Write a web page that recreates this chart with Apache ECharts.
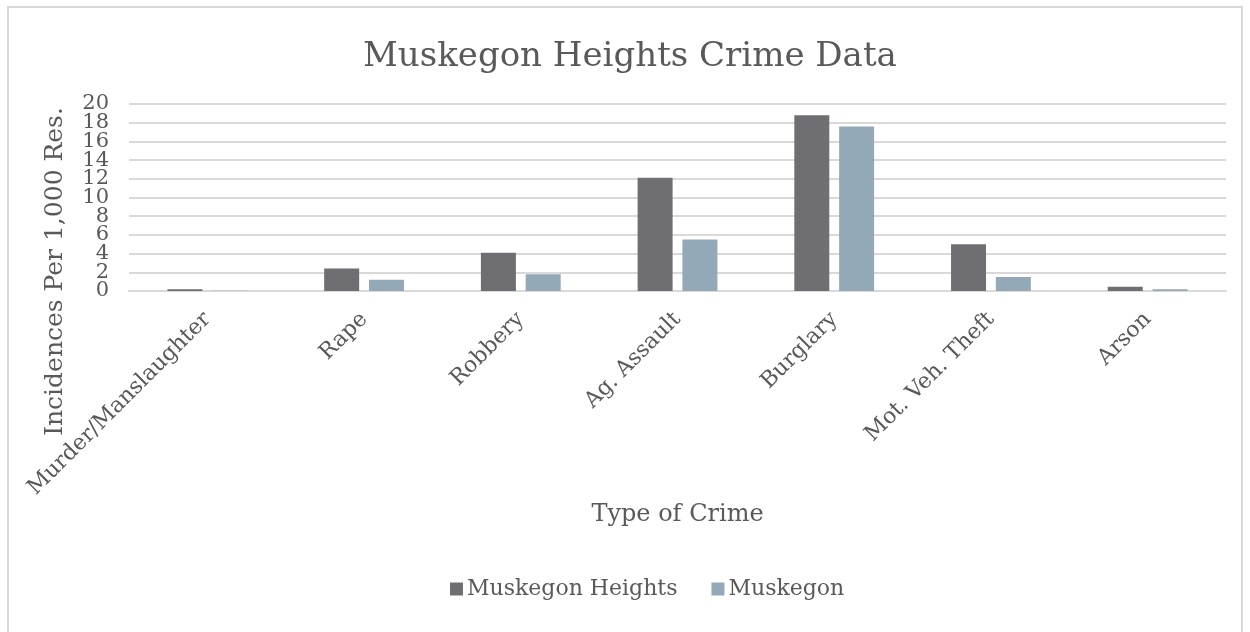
<!DOCTYPE html>
<html>
<head>
<meta charset="utf-8">
<script src="https://cdn.jsdelivr.net/npm/echarts@6/dist/echarts.min.js"></script>
<style>
  html, body { margin: 0; padding: 0; background: #fff; }
  #frame { position: absolute; left: 7px; top: 6px; width: 1236px; height: 640px; border: 2px solid #d9d9d9; box-sizing: border-box; }
  #chart { position: absolute; left: 0; top: 0; width: 1250px; height: 632px; }
</style>
</head>
<body>
<div id="frame"></div>
<div id="chart"></div>
<script>
// crime types along the x axis
const crimeTypes = ['Murder/Manslaughter', 'Rape', 'Robbery', 'Ag. Assault', 'Burglary', 'Mot. Veh. Theft', 'Arson']
// incidences per 1,000 residents
const muskegonHeights = [0.2, 2.4, 4.1, 12.1, 18.8, 5.0, 0.45]
const muskegon = [0.03, 1.2, 1.8, 5.5, 17.6, 1.5, 0.18]

const serif = "'DejaVu Serif', 'Liberation Serif', serif"
const textColor = '#595959'

const chart = echarts.init(document.getElementById('chart'))

// the y labels sit closer than their own height, so echarts would drop 2 and 18;
// split them over two stacked axes (0,4,8.. and 2,6,10..) so none are hidden
const yLabel = (rest) => ({
  margin: 20,
  fontFamily: serif,
  fontSize: 21,
  color: textColor,
  showMinLabel: true,
  showMaxLabel: true,
  formatter: (v) => (v % 4 === rest ? String(v) : '')
})

const option = {
  backgroundColor: 'transparent',
  animation: false,
  title: {
    text: 'Muskegon Heights Crime Data',
    left: 358,
    top: 35,
    textStyle: { fontFamily: serif, fontSize: 34, fontWeight: 'normal', color: textColor }
  },
  legend: {
    data: ['Muskegon Heights', 'Muskegon'],
    left: 445,
    top: 573,
    icon: 'rect',
    itemWidth: 13,
    itemHeight: 13,
    itemGap: 34,
    textStyle: { fontFamily: serif, fontSize: 22, color: textColor, padding: [0, 0, 0, -1] }
  },
  grid: { left: 129, right: 24, top: 104, bottom: 341, containLabel: false },
  xAxis: {
    type: 'category',
    data: crimeTypes,
    name: 'Type of Crime',
    nameLocation: 'middle',
    nameGap: 212,
    nameTextStyle: { fontFamily: serif, fontSize: 24, color: textColor },
    axisLine: { lineStyle: { color: '#d9d9d9', width: 2 } },
    axisTick: { show: false },
    axisLabel: { rotate: 45, interval: 0, margin: 25, fontFamily: serif, fontSize: 22, color: textColor }
  },
  yAxis: [
    {
      type: 'value',
      min: 0,
      max: 20,
      interval: 2,
      name: 'Incidences Per 1,000 Res.',
      nameLocation: 'middle',
      nameGap: 61,
      nameTextStyle: { fontFamily: serif, fontSize: 25, color: textColor, padding: [0, 148, 0, 0] },
      axisLine: { show: false },
      axisTick: { show: false },
      axisLabel: yLabel(0),
      splitLine: { lineStyle: { color: '#d9d9d9', width: 2 } }
    },
    {
      type: 'value',
      position: 'left',
      min: 0,
      max: 20,
      interval: 2,
      axisLine: { show: false },
      axisTick: { show: false },
      axisLabel: yLabel(2),
      splitLine: { show: false }
    }
  ],
  series: [
    {
      name: 'Muskegon Heights',
      type: 'bar',
      data: muskegonHeights,
      barWidth: 35,
      barGap: '28%',
      itemStyle: { color: '#6f6e73' }
    },
    {
      name: 'Muskegon',
      type: 'bar',
      data: muskegon,
      barWidth: 35,
      itemStyle: { color: '#93a9b8' }
    }
  ]
}

chart.setOption(option)
</script>
</body>
</html>
